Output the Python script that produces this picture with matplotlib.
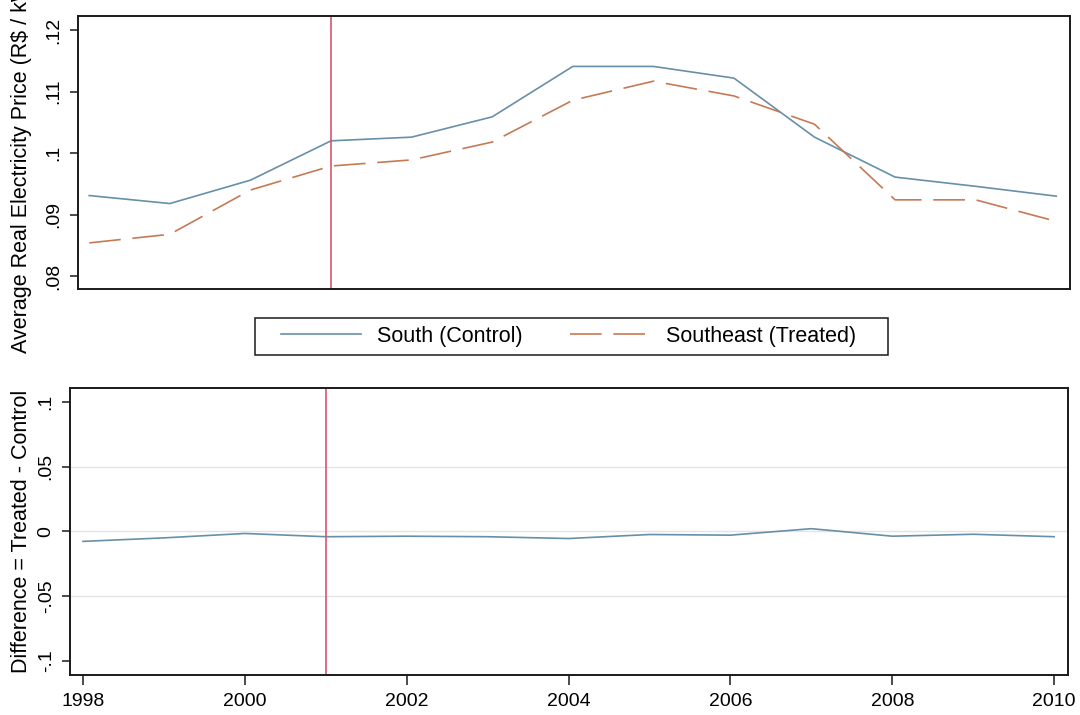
import numpy as np
import matplotlib
matplotlib.use("Agg")
import matplotlib.pyplot as plt
from matplotlib.patches import Rectangle

plt.rcParams["font.family"] = ["Liberation Sans", "DejaVu Sans"]

# average real electricity price by region
years = [1998, 1999, 2000, 2001, 2002, 2003, 2004, 2005, 2006, 2007, 2008, 2009, 2010]
south = [.0931, .0918, .0956, .1020, .1026, .1059, .1141, .1141, .1122, .1026, .0961, .0946, .0930]
southeast = [.0854, .0868, .0940, .0979, .0989, .1018, .1086, .1117, .1093, .1047, .0924, .0924, .0889]
policy_year = 2001

top_ticks = [.08, .09, .10, .11, .12]
top_ticklabels = [".08", ".09", ".1", ".11", ".12"]
bot_ticks = [-.1, -.05, 0, .05, .1]
bot_ticklabels = ["-.1", "-.05", "0", ".05", ".1"]
bot_grid = [-.05, 0, .05]
x_ticks = [1998, 2000, 2002, 2004, 2006, 2008, 2010]

diff = np.array(southeast) - np.array(south)

c_south = "#6790a8"
c_southeast = "#c57a55"
c_vline = "#d9546f"
spine_col = "#1a1a1a"

fig = plt.figure(figsize=(10.8, 7.15), dpi=100)
ax1 = fig.add_axes([0.0722, 0.5958, 0.9185, 0.3818])
ax2 = fig.add_axes([0.0648, 0.0559, 0.9240, 0.4014])

# top panel: levels
ax1.plot(years, south, color=c_south, lw=1.2, label="South (Control)")
ax1.plot(years, southeast, color=c_southeast, lw=1.2,
         linestyle=(0, (19, 7)), label="Southeast (Treated)")
ax1.axvline(policy_year, color=c_vline, lw=1.2)
ax1.set_xlim(1997.86, 2010.17)
ax1.set_ylim(.0779, .1223)
ax1.set_xticks([])
ax1.set_yticks(top_ticks)
ax1.set_yticklabels(top_ticklabels, rotation=90, va="center", fontsize=14)

# bottom panel: difference
for g in bot_grid:
    ax2.axhline(g, color="#e4e4e4", lw=1.0, zorder=0)
ax2.plot(years, diff, color=c_south, lw=1.2)
ax2.axvline(policy_year, color=c_vline, lw=1.2)
ax2.set_xlim(1997.84, 2010.17)
ax2.set_ylim(-.1108, .1106)
ax2.set_yticks(bot_ticks)
ax2.set_yticklabels(bot_ticklabels, rotation=90, va="center", fontsize=14)
ax2.set_xticks(x_ticks)
ax2.set_xticklabels([str(y) for y in x_ticks], fontsize=14)

for ax in (ax1, ax2):
    for s in ax.spines.values():
        s.set_color(spine_col)
        s.set_linewidth(1.4)
    ax.tick_params(axis="both", direction="out", length=6, width=1.1,
                   color=spine_col, pad=5)
ax2.tick_params(axis="x", length=7, pad=6)

fig.text(0.0195, 1 - 353 / 715, "Average Real Electricity Price (R$ / kWh)",
         rotation=90, ha="center", va="bottom", fontsize=15.5)
fig.text(0.0195, 1 - 531 / 715, "Difference = Treated - Control",
         rotation=90, ha="center", va="center", fontsize=15.5)

# legend between the panels, with a wider box drawn around it
fig.legend(loc="center", bbox_to_anchor=(0.5265, 1 - 336.5 / 715), ncol=2,
           fontsize=15.5, frameon=False, handlelength=3.7,
           handletextpad=0.75, columnspacing=2.2)
fig.patches.append(Rectangle((255 / 1080, 1 - 355 / 715), 633 / 1080, 37 / 715,
                             transform=fig.transFigure, fill=False,
                             edgecolor=spine_col, lw=1.1))

fig.savefig("out.png", dpi=100)
